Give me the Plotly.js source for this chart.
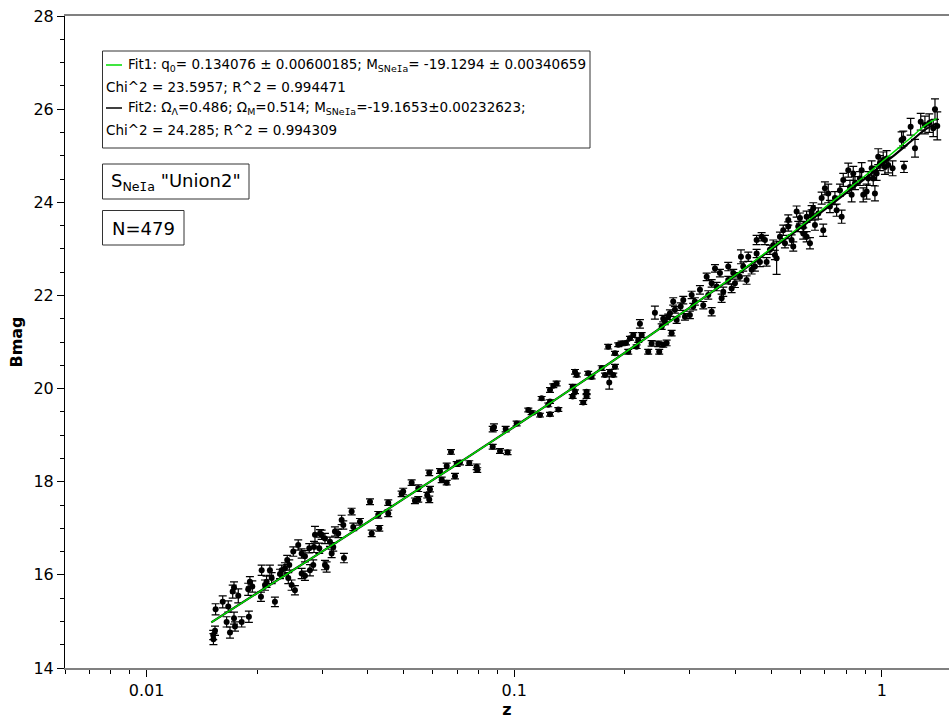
<!DOCTYPE html>
<html>
<head>
<meta charset="utf-8">
<script src="https://cdn.plot.ly/plotly-3.0.1.min.js"></script>
<style>html,body{margin:0;padding:0;background:#fff;}#chart{width:949px;height:722px;}</style>
</head>
<body>
<div id="chart"></div>
<script>
// Supernova data (redshift z, B magnitude, error)
const zVals = [
0.01518,0.01520,0.01535,0.01541,0.01611,0.01668,0.01651,0.01686,0.01729,0.01740,
0.01715,0.01729,0.01776,0.01814,0.01898,0.01910,0.01890,0.01939,0.02056,0.02047,
0.02165,0.02234,0.02120,0.02099,0.02189,0.02306,0.02331,0.02379,0.02413,0.02444,
0.02429,0.02480,0.02532,0.02506,0.02585,0.02641,0.02696,0.02641,0.02696,0.02782,
0.02840,0.02770,0.02871,0.02853,0.02949,0.02993,0.03056,0.03056,0.03088,0.03153,
0.03219,0.03253,0.03321,0.03393,0.03428,0.03442,0.03187,0.02962,0.03612,0.03649,
0.03805,0.04052,0.04095,0.04267,0.04295,0.04543,0.04543,0.04939,0.04988,0.05260,
0.05369,0.05482,0.05482,0.05800,0.05872,0.05898,0.05872,0.06281,0.06349,0.06551,
0.06551,0.06729,0.06899,0.06973,0.07118,0.07544,0.07901,0.07931,0.08737,0.08808,
0.08737,0.09146,0.09590,0.09476,0.10150,0.1092,0.1115,0.1175,0.1251,0.1251,
0.1277,0.1304,0.1187,0.1251,0.1237,0.1318,0.1442,0.1463,0.1442,0.1463,
0.1479,0.1573,0.1573,0.1540,0.1589,0.1623,0.1729,0.1765,0.1821,0.1813,
0.1859,0.1879,0.1801,0.1879,0.1918,0.1959,0.2013,0.2042,0.2064,0.2107,
0.2152,0.2174,0.2197,0.2221,0.2314,0.2364,0.2413,0.2464,0.2479,0.2542,
0.2597,0.2517,0.2569,0.2623,0.2679,0.2706,0.2735,0.2651,0.2765,0.2542,
0.2835,0.2882,0.2912,0.3004,0.3037,0.3067,0.3099,0.3199,0.3266,0.3337,
0.3370,0.3443,0.3443,0.3515,0.3552,0.3626,0.3664,0.3702,0.3819,0.3819,
0.3901,0.3941,0.3983,0.4110,0.4136,0.4196,0.4285,0.4329,0.4422,0.4514,
0.4562,0.4562,0.4658,0.4707,0.4806,0.4857,0.4959,0.5063,0.5117,0.5171,
0.5280,0.5390,0.5448,0.5562,0.5562,0.5681,0.5739,0.5861,0.5921,0.5984,
0.6109,0.6240,0.6371,0.6439,0.6505,0.6574,0.6120,0.6240,0.6439,0.6712,
0.6924,0.6855,0.6998,0.7145,0.7220,0.7450,0.7530,0.7770,0.7688,0.7849,
0.8099,0.8185,0.8272,0.8446,0.8356,0.8714,0.8807,0.8895,0.9087,0.9178,
0.9375,0.9470,0.9570,0.9672,0.9770,0.9874,1.008,1.019,1.030,1.069,
1.040,1.148,1.131,1.143,1.197,1.230,1.275,1.309,1.345,1.379,
1.394,1.414
];
const bmagVals = [
14.71,14.62,14.80,15.26,15.42,15.32,14.99,14.76,15.07,14.89,
15.64,15.73,15.55,14.99,15.10,15.85,15.69,15.75,16.10,15.53,
16.10,15.42,15.85,15.78,15.93,16.02,16.10,16.14,16.32,16.21,
15.93,15.78,15.67,16.50,16.64,16.46,16.40,16.03,15.98,16.10,
16.21,16.57,16.86,16.60,16.57,16.86,16.78,16.21,16.17,16.71,
16.60,16.93,16.89,17.18,17.07,16.36,16.46,16.89,17.36,17.03,
17.14,17.57,16.89,17.29,17.00,17.55,17.32,17.74,17.79,17.98,
17.59,17.86,17.62,17.71,17.62,17.84,18.19,18.23,18.04,17.98,
18.34,18.64,18.12,18.38,18.41,18.40,18.32,18.25,19.13,19.17,
18.75,18.66,18.63,19.13,19.25,19.54,19.48,19.43,19.45,19.97,
20.06,20.11,19.79,19.72,19.65,19.55,20.04,19.93,19.83,20.36,
20.29,19.93,19.83,19.70,20.33,20.25,20.44,20.29,20.36,20.13,
20.29,20.47,20.90,20.76,20.94,20.97,20.98,20.79,21.08,21.15,
20.90,21.04,21.39,21.15,20.79,20.97,21.63,20.96,20.79,20.94,
20.98,21.33,21.44,21.54,21.19,21.87,21.69,21.62,21.47,21.50,
21.76,21.90,21.54,21.58,22.01,21.76,21.87,22.12,21.79,22.40,
22.01,22.26,21.65,22.58,22.19,22.48,21.94,22.08,22.62,22.33,
22.15,22.48,22.26,22.40,22.83,22.62,22.33,22.83,22.55,22.62,
22.90,23.19,22.72,23.26,23.19,22.72,22.98,23.08,22.87,22.80,
23.26,23.40,23.12,23.62,23.48,23.19,23.05,23.80,23.48,23.66,
23.33,23.26,23.12,23.73,23.87,23.51,23.47,23.69,23.80,23.76,
23.40,24.09,24.30,24.19,23.91,24.09,23.83,23.69,24.26,24.48,
24.69,24.33,24.16,24.41,24.62,24.51,24.69,24.16,24.23,24.51,
24.73,24.51,24.19,24.62,24.98,24.84,24.91,24.76,24.94,24.73,
24.80,24.76,25.34,25.37,25.62,25.16,25.73,25.66,25.70,25.59,
26.00,25.64
];
const bmagErr = [
0.10,0.12,0.10,0.12,0.13,0.12,0.11,0.12,0.13,0.10,
0.14,0.12,0.15,0.11,0.12,0.11,0.13,0.12,0.11,0.10,
0.11,0.10,0.12,0.11,0.12,0.10,0.11,0.12,0.10,0.11,
0.12,0.11,0.10,0.10,0.11,0.10,0.12,0.11,0.10,0.12,
0.11,0.10,0.18,0.12,0.11,0.10,0.11,0.10,0.11,0.10,
0.09,0.10,0.09,0.10,0.09,0.10,0.09,0.08,0.07,0.08,
0.07,0.06,0.07,0.07,0.06,0.06,0.07,0.06,0.07,0.06,
0.06,0.07,0.06,0.06,0.07,0.06,0.06,0.05,0.06,0.05,
0.06,0.05,0.06,0.05,0.05,0.05,0.06,0.05,0.06,0.07,
0.05,0.05,0.05,0.06,0.05,0.04,0.04,0.04,0.04,0.05,
0.04,0.05,0.04,0.04,0.04,0.04,0.05,0.04,0.04,0.05,
0.04,0.04,0.04,0.04,0.04,0.04,0.05,0.04,0.05,0.14,
0.04,0.05,0.05,0.04,0.04,0.05,0.04,0.05,0.04,0.05,
0.04,0.05,0.09,0.05,0.05,0.06,0.14,0.06,0.05,0.05,
0.06,0.06,0.07,0.06,0.06,0.08,0.07,0.07,0.07,0.07,
0.08,0.08,0.07,0.08,0.08,0.07,0.08,0.09,0.08,0.08,
0.09,0.08,0.09,0.08,0.09,0.08,0.09,0.10,0.09,0.08,
0.09,0.08,0.09,0.09,0.15,0.10,0.09,0.10,0.09,0.10,
0.09,0.10,0.10,0.09,0.10,0.09,0.10,0.11,0.10,0.35,
0.10,0.11,0.10,0.11,0.10,0.11,0.10,0.12,0.11,0.11,
0.12,0.11,0.12,0.11,0.12,0.11,0.12,0.12,0.13,0.12,
0.13,0.13,0.14,0.20,0.13,0.14,0.13,0.14,0.13,0.14,
0.15,0.14,0.15,0.14,0.15,0.15,0.16,0.15,0.16,0.15,
0.16,0.15,0.16,0.15,0.17,0.16,0.17,0.16,0.17,0.16,
0.17,0.12,0.17,0.16,0.18,0.19,0.18,0.19,0.20,0.18,
0.22,0.30
];

// Fit curves
const fitZ  = [0.015,0.02,0.03,0.05,0.07,0.1,0.15,0.2,0.3,0.4,0.5,0.6,0.7,0.8,0.9,1.0,1.1,1.2,1.3,1.41];
const fit1B = [14.98,15.61,16.50,17.63,18.38,19.18,20.10,20.77,21.74,22.44,23.01,23.48,23.89,24.25,24.57,24.87,25.14,25.39,25.63,25.80];
const fit2B = [14.98,15.61,16.50,17.63,18.38,19.18,20.10,20.77,21.74,22.43,22.99,23.45,23.85,24.20,24.51,24.80,25.06,25.31,25.54,25.70];

// Axis ticks
const xTickVals = [0.01, 0.1, 1];
const xTickText = ['0.01', '0.1', '1'];
const xMinorVals = [0.006,0.007,0.008,0.009,0.02,0.03,0.04,0.05,0.06,0.07,0.08,0.09,0.2,0.3,0.4,0.5,0.6,0.7,0.8,0.9];

const TXT = "'DejaVu Sans', Verdana, sans-serif";
const px2x = p => (p - 65) / 884;
const px2y = p => (668 - p) / 652;

const traces = [
  {
    x: zVals, y: bmagVals, type: 'scatter', mode: 'markers',
    marker: {color: '#000', size: 6},
    error_y: {type: 'data', array: bmagErr, visible: true, color: '#000', thickness: 1.2, width: 4},
    showlegend: false, hoverinfo: 'x+y'
  },
  {
    x: fitZ, y: fit2B, type: 'scatter', mode: 'lines',
    line: {color: '#000', width: 2.2, shape: 'spline'}, showlegend: false
  },
  {
    x: fitZ, y: fit1B, type: 'scatter', mode: 'lines',
    line: {color: '#00dd00', width: 1.5, shape: 'spline'}, showlegend: false
  }
];

const boxLine = {color: '#333', width: 1};
const shapes = [
  {type: 'rect', xref: 'paper', yref: 'paper', x0: px2x(102.5), x1: px2x(590), y0: px2y(148), y1: px2y(51), line: boxLine, fillcolor: 'rgba(255,255,255,0.9)', layer: 'above'},
  {type: 'rect', xref: 'paper', yref: 'paper', x0: px2x(102.5), x1: px2x(249), y0: px2y(199), y1: px2y(164), line: boxLine, fillcolor: '#fff', layer: 'above'},
  {type: 'rect', xref: 'paper', yref: 'paper', x0: px2x(102.5), x1: px2x(184), y0: px2y(245), y1: px2y(210.5), line: boxLine, fillcolor: '#fff', layer: 'above'},
  {type: 'line', xref: 'paper', yref: 'paper', x0: px2x(106), x1: px2x(122), y0: px2y(65), y1: px2y(65), line: {color: '#00dd00', width: 1.5}, layer: 'above'},
  {type: 'line', xref: 'paper', yref: 'paper', x0: px2x(106), x1: px2x(122), y0: px2y(108), y1: px2y(108), line: {color: '#000', width: 1.5}, layer: 'above'}
];

const legFont = {family: TXT, size: 13.5, color: '#000'};
const bigFont = {family: TXT, size: 18, color: '#000'};
const serifI = '<span style="font-family:DejaVu Sans Mono">I</span>';
const ann = (px, py, text, font, anchor) => ({
  xref: 'paper', yref: 'paper', x: px2x(px), y: px2y(py), text: text,
  showarrow: false, xanchor: anchor || 'left', yanchor: 'middle', font: font, align: 'left'
});
const annotations = [
  ann(126, 65, 'Fit1: q<sub>0</sub>= 0.134076 ± 0.00600185; M<sub>SNe' + serifI + 'a</sub>= -19.1294 ± 0.00340659', legFont),
  ann(104, 87, 'Chi^2 = 23.5957; R^2 = 0.994471', legFont),
  ann(126, 108, 'Fit2: Ω<sub>Λ</sub>=0.486; Ω<sub>M</sub>=0.514; M<sub>SNe' + serifI + 'a</sub>=-19.1653±0.00232623;', legFont),
  ann(104, 130, 'Chi^2 = 24.285; R^2 = 0.994309', legFont),
  ann(175.8, 181.5, 'S<sub>Ne' + serifI + 'a</sub> "Union2"', bigFont, 'center'),
  ann(143.3, 228, 'N=479', bigFont, 'center')
];

const layout = {
  width: 949, height: 722,
  margin: {l: 65, r: 0, t: 16, b: 54, pad: 0},
  paper_bgcolor: '#fff', plot_bgcolor: '#fff',
  showlegend: false,
  xaxis: {
    type: 'log', range: [Math.log10(0.006), 0.1824],
    tickmode: 'array', tickvals: xTickVals, ticktext: xTickText,
    ticks: 'outside', ticklen: 7, tickcolor: '#000', tickwidth: 1,
    minor: {tickmode: 'array', tickvals: xMinorVals, ticks: 'outside', ticklen: 4, tickcolor: '#000', tickwidth: 1, showgrid: false},
    showline: true, linecolor: '#808080', linewidth: 2, mirror: true,
    showgrid: false, zeroline: false,
    tickfont: {family: TXT, size: 16, color: '#000'},
    title: {text: '<b>z</b>', font: {family: TXT, size: 16, color: '#000'}, standoff: 4},
    automargin: false
  },
  yaxis: {
    range: [14, 28], tick0: 14, dtick: 2,
    ticks: 'outside', ticklen: 7, tickcolor: '#000', tickwidth: 1,
    minor: {dtick: 0.5, ticks: 'outside', ticklen: 4, tickcolor: '#000', tickwidth: 1, showgrid: false},
    showline: true, linecolor: '#000', linewidth: 1, mirror: false,
    showgrid: false, zeroline: false,
    tickfont: {family: TXT, size: 16, color: '#000'},
    title: {text: '<b>Bmag</b>', font: {family: TXT, size: 16, color: '#000'}, standoff: 6},
    automargin: false
  },
  shapes: shapes,
  annotations: annotations
};

Plotly.newPlot('chart', traces, layout, {displayModeBar: false, staticPlot: true});
</script>
</body>
</html>
